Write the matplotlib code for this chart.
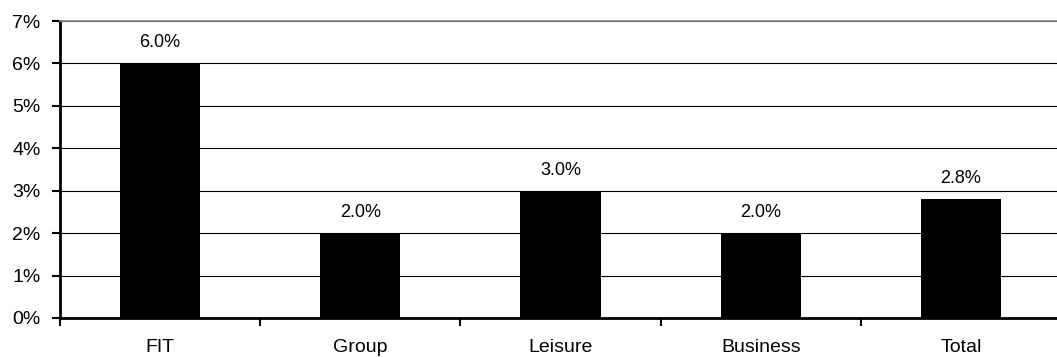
import numpy as np
import matplotlib.pyplot as plt
from matplotlib.ticker import FuncFormatter

categories = ['FIT', 'Group', 'Leisure', 'Business', 'Total']
growth = [6.0, 2.0, 3.0, 2.0, 2.8]   # percent
labels = ['6.0%', '2.0%', '3.0%', '2.0%', '2.8%']

plt.rcParams['font.family'] = ['Liberation Sans', 'DejaVu Sans']

fig = plt.figure(figsize=(10.57, 3.57), dpi=100)
W, H = 1057, 357
ax = fig.add_axes([60 / W, (H - 318) / H, (1061 - 60) / W, (318 - 21) / H])

x = np.arange(len(categories))
bars = ax.bar(x, growth, width=0.4, color='black', zorder=3)

for b, txt in zip(bars, labels):
    ax.annotate(txt, (b.get_x() + b.get_width() / 2, b.get_height()),
                xytext=(0, 11.5), textcoords='offset points',
                ha='center', va='baseline', fontsize=13,
                family=['Liberation Sans Narrow', 'Liberation Sans'])

ax.set_xlim(-0.5, len(categories) - 0.5)
ax.set_ylim(0, 7)
ax.set_yticks(range(0, 8))
ax.yaxis.set_major_formatter(FuncFormatter(lambda v, p: f'{v:.0f}%'))
ax.yaxis.grid(True, color='black', linewidth=0.8, zorder=0)
ax.set_axisbelow(True)

# category names centred, ticks on the boundaries between them
ax.set_xticks(x)
ax.set_xticklabels(categories)
ax.set_xticks(np.arange(-0.5, len(categories) - 0.5, 1), minor=True)
ax.tick_params(axis='x', which='major', length=0, pad=15, labelsize=14)
ax.tick_params(axis='x', which='minor', length=6, width=1.5, direction='out')
ax.tick_params(axis='y', length=6, width=1.5, pad=8, labelsize=14)

for side in ('left', 'bottom'):
    ax.spines[side].set_linewidth(2)
ax.spines['top'].set_color('#888888')
ax.spines['top'].set_linewidth(1.2)
ax.spines['right'].set_visible(False)

fig.savefig('out.png', dpi=100)
